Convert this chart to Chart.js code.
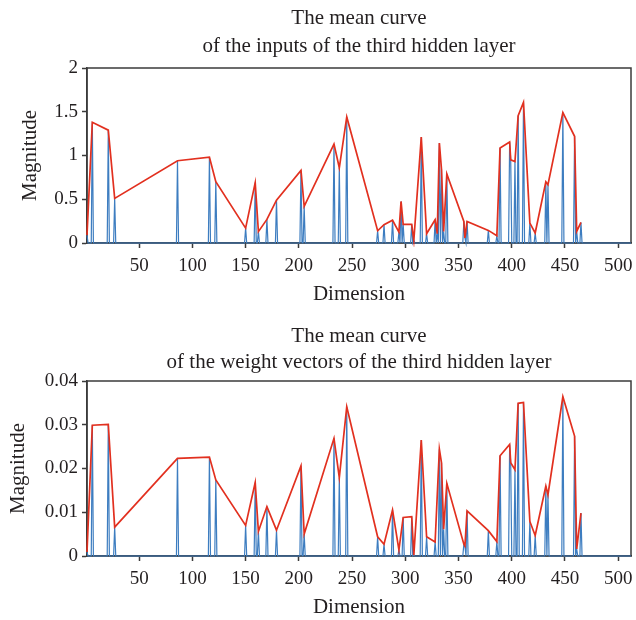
<!DOCTYPE html>
<html>
<head>
<meta charset="utf-8">
<title>Mean curves of the third hidden layer</title>
<script src="https://cdn.jsdelivr.net/npm/chart.js@4/dist/chart.umd.min.js"></script>
<style>
  body { margin: 0; background: #fff; }
  .panel { position: absolute; left: 0; width: 636px; height: 310px; }
</style>
</head>
<body>
<div class="panel" style="top:0"><canvas id="inputsChart" width="636" height="310"></canvas></div>
<div class="panel" style="top:310px"><canvas id="weightsChart" width="636" height="310"></canvas></div>
<script>
// number of dimensions in the layer
const dimensionCount = 512;
const xTicks = [50, 100, 150, 200, 250, 300, 350, 400, 450, 500];

// active dimensions and their mean input magnitude
const inputDims = [1, 6, 21, 27, 86, 116, 122, 150, 159, 162, 170, 179, 202, 205, 233, 238, 245,
  274, 280, 288, 294, 296, 298, 306, 308, 315, 320, 328, 330, 332, 334, 336, 339, 355, 356, 358,
  378, 386, 389, 398, 399, 403, 406, 411, 417, 422, 432, 434, 448, 459, 461, 465];
const inputValues = [0.09, 1.38, 1.29, 0.51, 0.94, 0.98, 0.70, 0.17, 0.69, 0.13, 0.27, 0.49, 0.83, 0.42, 1.13, 0.86, 1.44,
  0.14, 0.21, 0.26, 0.125, 0.475, 0.213, 0.213, 0.03, 1.21, 0.106, 0.266, 0.106, 1.143, 0.84, 0.133, 0.79, 0.247, 0.057, 0.247,
  0.144, 0.083, 1.085, 1.154, 0.95, 0.93, 1.455, 1.607, 0.228, 0.114, 0.70, 0.666, 1.49, 1.22, 0.133, 0.235];
const inputTicks = [0, 0.5, 1, 1.5, 2];

// active dimensions and their mean weight magnitude
const weightDims = [1, 6, 21, 27, 86, 116, 122, 150, 159, 162, 170, 179, 202, 205, 233, 238, 245,
  274, 280, 288, 294, 298, 306, 308, 315, 320, 328, 332, 334, 336, 339, 355, 356, 358,
  378, 386, 389, 398, 399, 403, 406, 411, 417, 422, 432, 434, 448, 459, 461, 465];
const weightValues = [0.0009, 0.0299, 0.0301, 0.0066, 0.0223, 0.0226, 0.0174, 0.0070, 0.0168, 0.0056, 0.0113, 0.0059, 0.0206, 0.0050, 0.0269, 0.0179, 0.0341,
  0.0044, 0.0027, 0.0105, 0.0014, 0.0088, 0.0090, 0.0002, 0.0265, 0.0044, 0.0032, 0.0244, 0.0213, 0.0061, 0.0166, 0.0027, 0.0023, 0.0103,
  0.0058, 0.0033, 0.0229, 0.0255, 0.0213, 0.0197, 0.0349, 0.0351, 0.0079, 0.0047, 0.0160, 0.0140, 0.0364, 0.0274, 0.0016, 0.0098];
const weightTicks = [0, 0.01, 0.02, 0.03, 0.04];

const serif = "'Liberation Serif', 'DejaVu Serif', serif";
const ink = '#231f20';
const axisColor = '#3b3b3b';
const blue = '#3d7dc0';
const red = '#e2301f';

// full-length signal, zero everywhere except the active dimensions
function signal(dims, values) {
  const pts = [];
  for (let d = 1; d <= dimensionCount; d++) {
    const i = dims.indexOf(d);
    pts.push({ x: d, y: i >= 0 ? values[i] : 0 });
  }
  return pts;
}

// box around the plot area
const frame = {
  id: 'frame',
  beforeDatasetsDraw(chart) {
    const { ctx, chartArea: a } = chart;
    ctx.save();
    ctx.strokeStyle = axisColor;
    ctx.lineWidth = 1.5;
    ctx.strokeRect(a.left, a.top, a.right - a.left, a.bottom - a.top);
    ctx.restore();
  }
};

function makeChart(id, o) {
  return new Chart(document.getElementById(id), {
    type: 'line',
    data: {
      datasets: [
        {
          data: o.dims.map((d, i) => ({ x: d, y: o.values[i] })),
          borderColor: red, borderWidth: 1.7, pointRadius: 0, tension: 0, clip: 4
        },
        {
          data: signal(o.dims, o.values),
          borderColor: blue, borderWidth: 1.2, pointRadius: 0, tension: 0, clip: 4
        }
      ]
    },
    options: {
      responsive: false,
      animation: false,
      devicePixelRatio: 1,
      layout: { padding: { left: 0, right: 5, top: 0, bottom: 0 } },
      plugins: {
        legend: { display: false },
        tooltip: { enabled: false },
        title: {
          display: true,
          text: o.title,
          fullSize: false,
          color: ink,
          font: { family: serif, size: 21, weight: 'normal', lineHeight: o.titleLine },
          padding: { top: o.titleTop, bottom: o.titleBottom }
        }
      },
      scales: {
        x: {
          type: 'linear',
          min: 1,
          max: dimensionCount,
          afterBuildTicks: s => { s.ticks = xTicks.map(v => ({ value: v })); },
          afterFit: s => { s.height = o.xHeight; s.paddingLeft = 0; s.paddingRight = 0; },
          grid: { drawOnChartArea: false, tickLength: 5, tickColor: axisColor, tickWidth: 1.5 },
          border: { color: axisColor, width: 1.5 },
          ticks: { color: ink, padding: 7, maxRotation: 0, font: { family: serif, size: 19 } },
          title: {
            display: true, text: 'Dimension', color: ink,
            font: { family: serif, size: 21 }, padding: { top: 0, bottom: o.xTitlePad }
          }
        },
        y: {
          min: 0,
          max: o.ticks[o.ticks.length - 1],
          afterBuildTicks: s => { s.ticks = o.ticks.map(v => ({ value: v })); },
          afterFit: s => { s.width = 87; },
          grid: { drawOnChartArea: false, tickLength: 5, tickColor: axisColor, tickWidth: 1.5 },
          border: { color: axisColor, width: 1.5 },
          ticks: { color: ink, padding: 4, font: { family: serif, size: 19 }, callback: v => String(v) },
          title: {
            display: true, text: 'Magnitude', color: ink,
            font: { family: serif, size: 21 }, padding: { top: o.yTitlePad, bottom: 0 }
          }
        }
      }
    },
    plugins: [frame]
  });
}

makeChart('inputsChart', {
  dims: inputDims, values: inputValues, ticks: inputTicks,
  title: ['The mean curve', 'of the inputs of the third hidden layer'],
  titleLine: '28px', titleTop: 4, titleBottom: 8, xHeight: 67, xTitlePad: 2.5, yTitlePad: 18
});

makeChart('weightsChart', {
  dims: weightDims, values: weightValues, ticks: weightTicks,
  title: ['The mean curve', 'of the weight vectors of the third hidden layer'],
  titleLine: '26px', titleTop: 13, titleBottom: 6, xHeight: 64, xTitlePad: 0, yTitlePad: 6
});
</script>
</body>
</html>
